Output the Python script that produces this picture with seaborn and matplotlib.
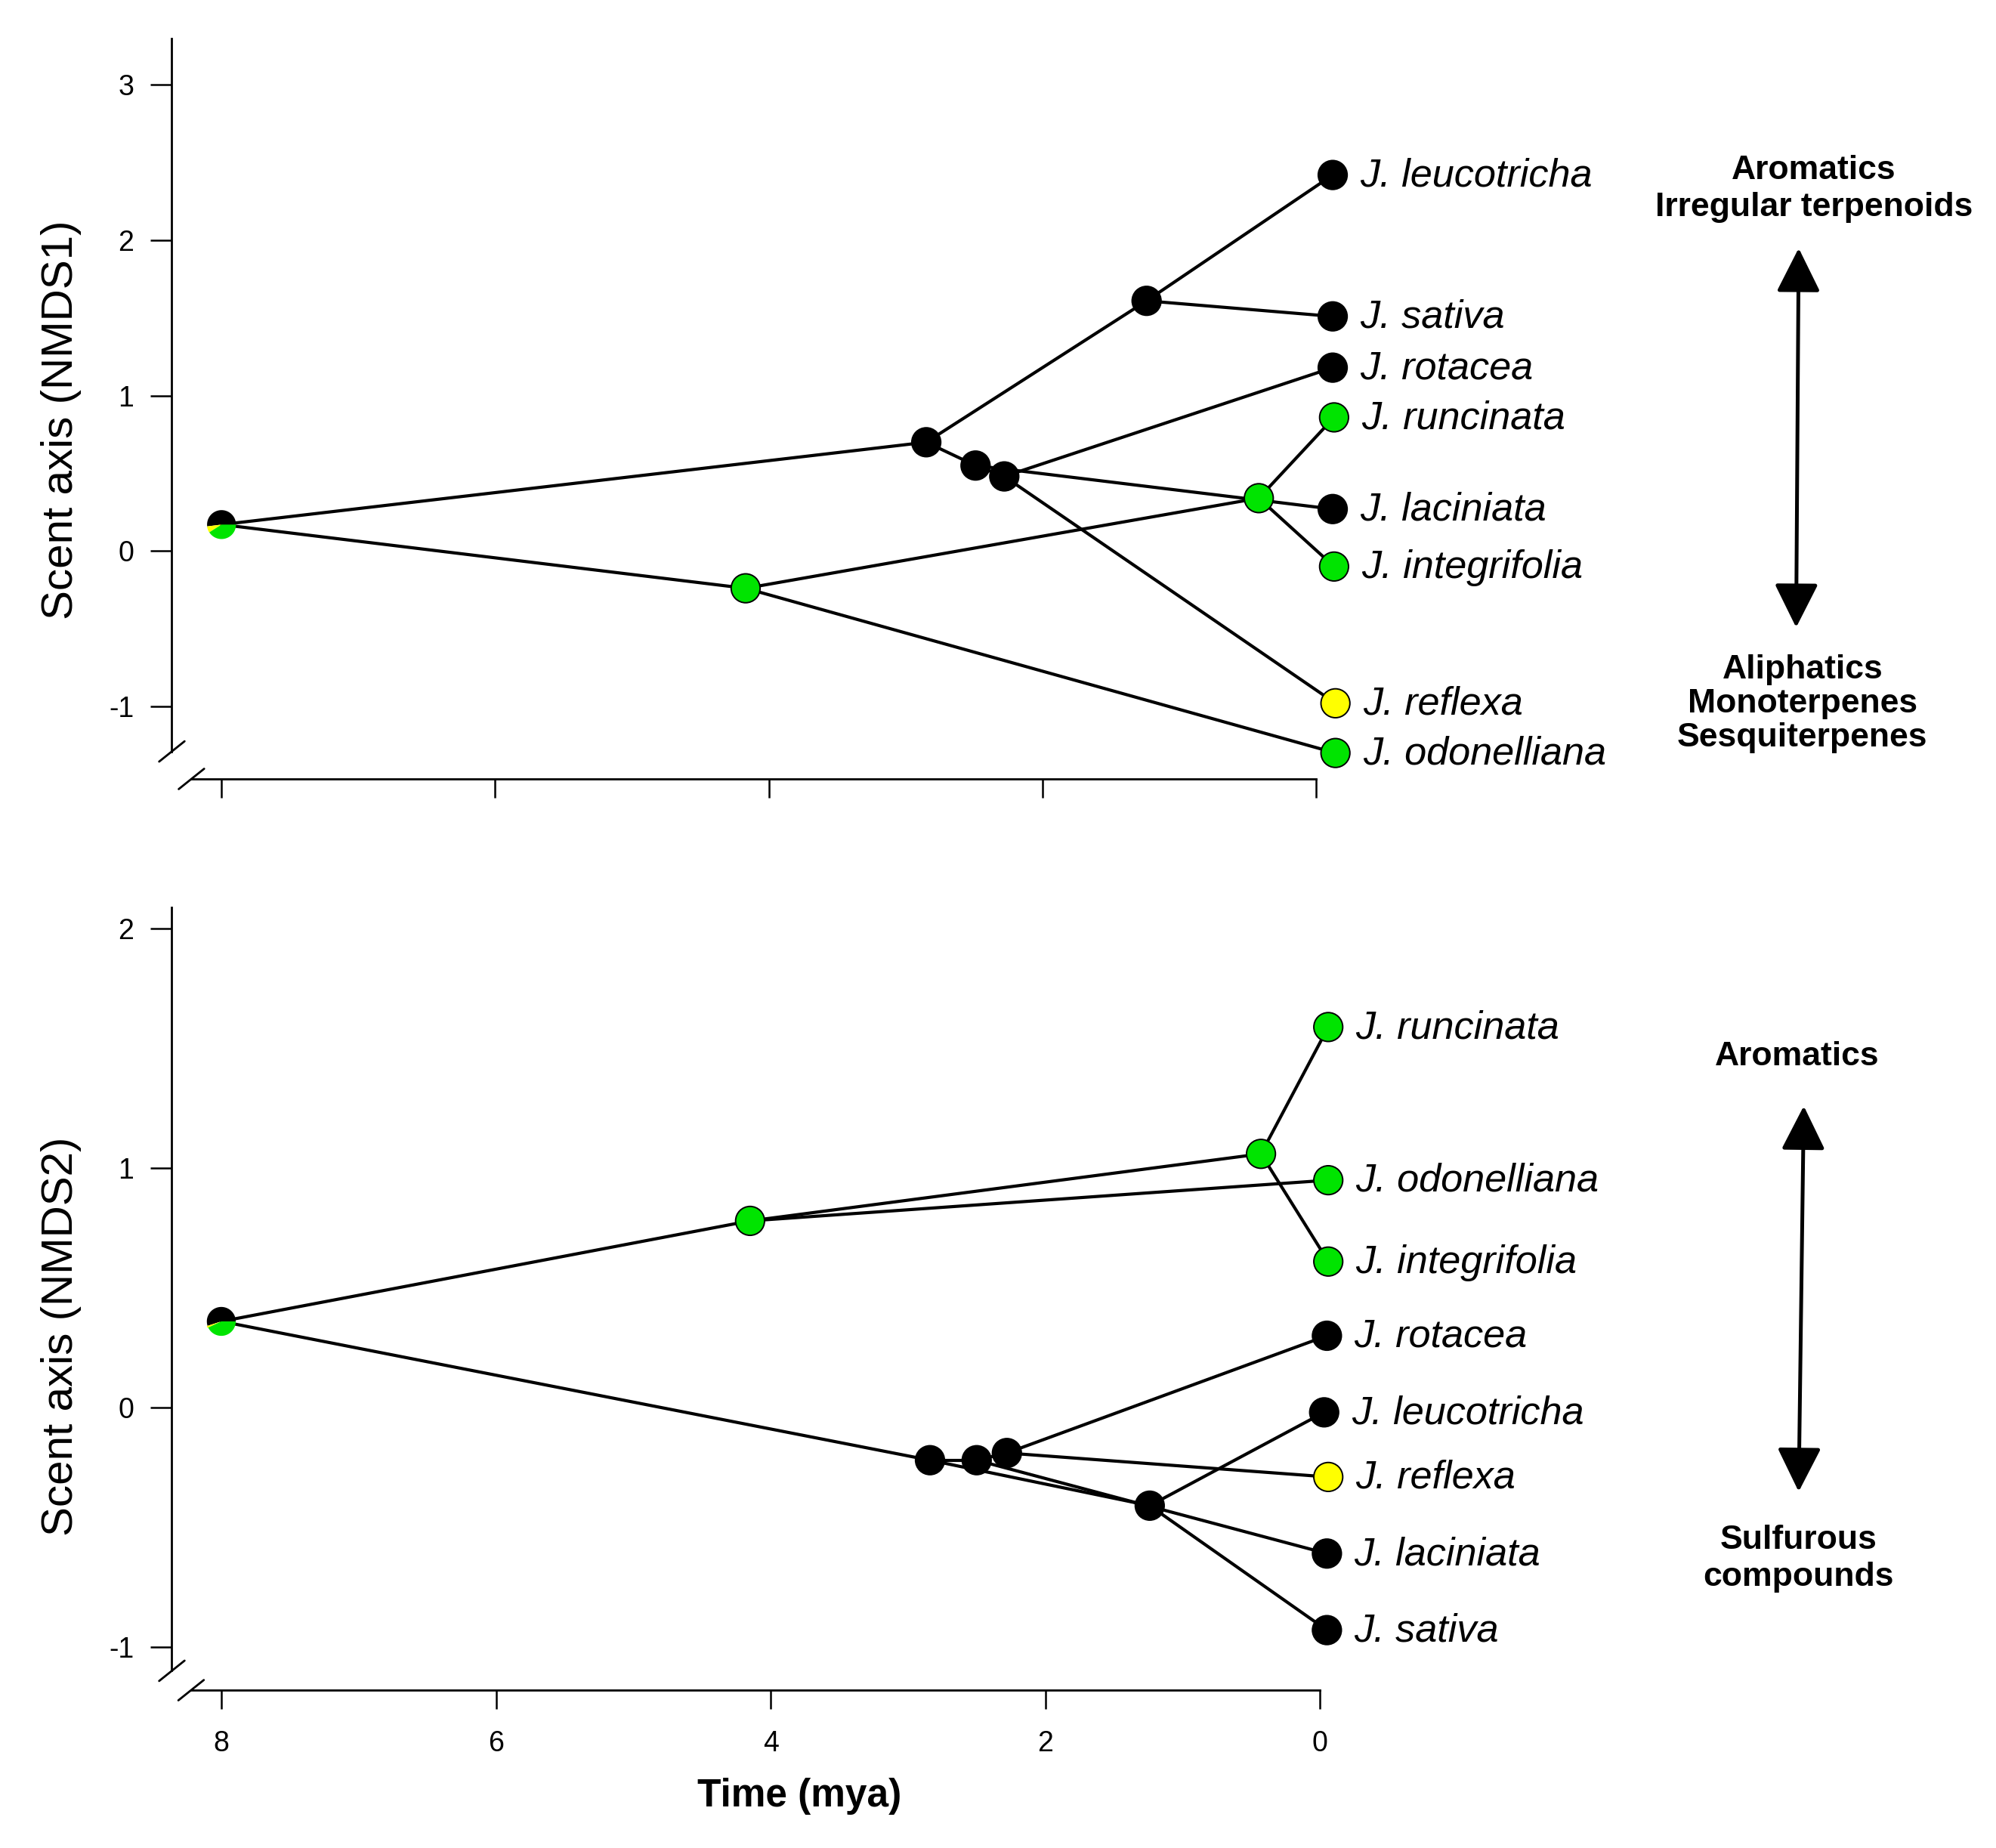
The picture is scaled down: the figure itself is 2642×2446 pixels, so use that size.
import numpy as np
import pandas as pd
import matplotlib
matplotlib.use("Agg")
import matplotlib.pyplot as plt
from matplotlib.patches import FancyArrowPatch
import seaborn as sns

# ---------------- data ----------------
# internal nodes + tips, same topology in both panels
node_names = ["root", "A", "B", "C", "D", "E", "F",
              "J. leucotricha", "J. sativa", "J. rotacea", "J. runcinata",
              "J. laciniata", "J. integrifolia", "J. reflexa", "J. odonelliana"]
node_state = ["pie", "black", "black", "black", "black", "green", "green",
              "black", "black", "black", "green",
              "black", "green", "yellow", "green"]

# NMDS1 panel (time in mya, scent score)
time_nmds1 = [8.0, 2.85, 2.49, 2.28, 1.24, 4.17, 0.42,
              -0.12, -0.12, -0.12, -0.13, -0.12, -0.13, -0.14, -0.14]
score_nmds1 = [0.17, 0.70, 0.55, 0.48, 1.61, -0.24, 0.34,
               2.42, 1.51, 1.18, 0.86, 0.27, -0.10, -0.98, -1.30]

# NMDS2 panel
time_nmds2 = [8.0, 2.84, 2.50, 2.28, 1.24, 4.15, 0.43,
              -0.03, -0.05, -0.05, -0.06, -0.05, -0.06, -0.06, -0.06]
score_nmds2 = [0.36, -0.22, -0.22, -0.19, -0.41, 0.78, 1.06,
               -0.02, -0.93, 0.30, 1.59, -0.61, 0.61, -0.29, 0.95]

edges = [("root", "A"), ("root", "E"), ("A", "D"), ("A", "B"), ("B", "C"),
         ("B", "J. laciniata"), ("C", "J. rotacea"), ("C", "J. reflexa"),
         ("D", "J. leucotricha"), ("D", "J. sativa"), ("E", "J. odonelliana"),
         ("E", "F"), ("F", "J. runcinata"), ("F", "J. integrifolia")]

# root ancestral state proportions (black, yellow, green)
root_pie_nmds1 = [0.52, 0.07, 0.41]
root_pie_nmds2 = [0.55, 0.02, 0.43]

x_ticks = [8, 6, 4, 2, 0]
y_ticks_nmds1 = [-1, 0, 1, 2, 3]
y_ticks_nmds2 = [-1, 0, 1, 2]

palette = {"black": "black", "green": "#00E400", "yellow": "#FFFF00"}

# ---------------- style ----------------
sns.set_style("ticks")
plt.rcParams["font.family"] = ["Liberation Sans", "DejaVu Sans"]
plt.rcParams["axes.unicode_minus"] = False
plt.rcParams["text.color"] = "black"
plt.rcParams["axes.labelcolor"] = "black"


def pie_marker(start, end):
    t = np.linspace(start, end, 40) * 2 * np.pi
    return np.column_stack([np.r_[0, np.cos(t), 0], np.r_[0, np.sin(t), 0]])


def draw_panel(ax, times, scores, pie, xlim, ylim, left_lo, yticks, ylabel, lab_y):
    nodes = pd.DataFrame({"name": node_names, "state": node_state,
                          "time": times, "score": scores})
    pos = nodes.set_index("name")
    rows = []
    for i, (a, b) in enumerate(edges):
        for n in (a, b):
            rows.append({"edge": i, "time": pos.loc[n, "time"], "score": pos.loc[n, "score"]})
    edge_df = pd.DataFrame(rows)

    sns.lineplot(data=edge_df, x="time", y="score", units="edge", estimator=None,
                 sort=False, color="black", linewidth=1.5, legend=False, ax=ax, zorder=1)
    sns.scatterplot(data=nodes[nodes.state != "pie"], x="time", y="score", hue="state",
                    palette=palette, s=190, edgecolor="black", linewidth=0.7,
                    legend=False, ax=ax, zorder=3)

    # root pie
    r = pos.loc["root"]
    cols = ["black", palette["yellow"], palette["green"]]
    acc = 0.0
    for frac, c in zip(pie, cols):
        if frac <= 0:
            continue
        ax.scatter([r.time], [r.score], marker=pie_marker(acc, acc + frac), s=190,
                   color=c, edgecolor="none", zorder=4)
        acc += frac

    # tip labels
    for _, t in nodes[nodes.name.str.startswith("J.")].iterrows():
        ax.annotate(t["name"], (t.time, t.score), xytext=(13, -0.5), textcoords="offset points",
                    ha="left", va="center", fontsize=18.8, style="italic")

    ax.set_xlim(*xlim)
    ax.set_ylim(*ylim)
    ax.set_xticks(x_ticks)
    ax.set_yticks(yticks)
    ax.set_xticklabels([str(v) for v in x_ticks])
    ax.set_yticklabels([str(v) for v in yticks])
    sns.despine(ax=ax)
    ax.spines["left"].set_bounds(left_lo, ylim[1])
    ax.spines["bottom"].set_bounds(8.22, 0)
    for s in ("left", "bottom"):
        ax.spines[s].set_linewidth(1.0)
        ax.spines[s].set_color("black")
    ax.tick_params(axis="y", length=10, width=0.9, pad=8, labelsize=13.5, colors="black")
    ax.tick_params(axis="x", length=9, width=0.9, pad=10, labelsize=13.5, colors="black")
    ax.set_ylabel(ylabel, fontsize=21)
    ax.yaxis.set_label_coords(-0.0615, lab_y)

    # axis break marks "//"
    bb = ax.get_position()
    dx = 10 / 1568 / bb.width
    dy = 8 / 1452 / bb.height
    y_end = (left_lo - ylim[0]) / (ylim[1] - ylim[0])
    x_start = (xlim[0] - 8.22) / (xlim[0] - xlim[1])
    for cx, cy in ((0, y_end), (x_start, 0)):
        ax.plot([cx - dx, cx + dx], [cy - dy, cy + dy], color="black", lw=1.0,
                transform=ax.transAxes, clip_on=False)


fig = plt.figure(figsize=(13.21, 12.23), dpi=200)
ax1 = fig.add_axes([0.0861, 0.5785, 0.7366, 0.4008])
ax2 = fig.add_axes([0.0861, 0.0854, 0.7366, 0.4236])

draw_panel(ax1, time_nmds1, score_nmds1, root_pie_nmds1, (8.363, -2.381), (-1.467, 3.30),
           -1.29, y_ticks_nmds1, "Scent axis (NMDS1)", 0.4845)
ax1.tick_params(axis="x", labelbottom=False)
ax1.set_xlabel("")

draw_panel(ax2, time_nmds2, score_nmds2, root_pie_nmds2, (8.36, -2.345), (-1.181, 2.09),
           -1.10, y_ticks_nmds2, "Scent axis (NMDS2)", 0.452)
ax2.set_xlabel("Time (mya)", fontsize=18.5, fontweight="bold")
ax2.xaxis.set_label_coords(0.427, -0.112)


def fxy(px, py):
    return px / 1568, 1 - py / 1452


def side_note(px, py, text, ls):
    fig.text(*fxy(px, py), text, ha="center", va="center", fontsize=16,
             fontweight="bold", linespacing=ls, color="black")


def side_arrow(p_top, p_bot):
    arr = FancyArrowPatch(fxy(*p_bot), fxy(*p_top), transform=fig.transFigure,
                          arrowstyle="<|-|>", mutation_scale=45, lw=1.8,
                          color="black", shrinkA=0, shrinkB=0)
    fig.patches.append(arr)


side_note(1425, 148.5, "Aromatics\nIrregular terpenoids", 1.25)
side_arrow((1413, 195), (1411, 493))
side_note(1416, 553, "Aliphatics\nMonoterpenes\nSesquiterpenes", 1.12)

side_note(1412, 830, "Aromatics", 1.2)
side_arrow((1417, 869), (1413, 1172))
side_note(1413, 1224.5, "Sulfurous\ncompounds", 1.25)

fig.savefig("out.png", dpi=200, facecolor="white")
